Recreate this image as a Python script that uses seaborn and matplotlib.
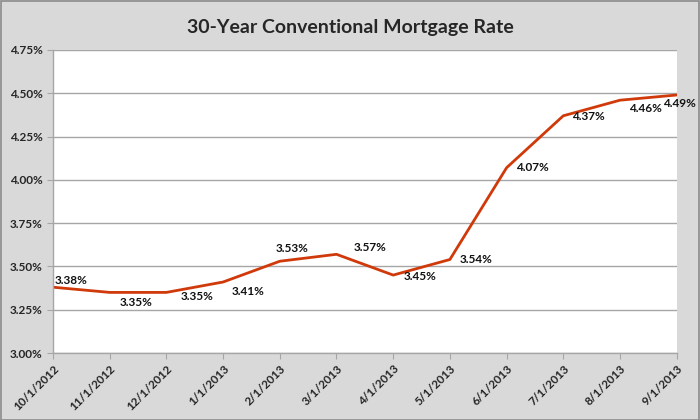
import seaborn as sns
import pandas as pd
from matplotlib import pyplot as plt
from matplotlib.ticker import FuncFormatter

dates = ["10/1/2012", "11/1/2012", "12/1/2012", "1/1/2013", "2/1/2013", "3/1/2013",
         "4/1/2013", "5/1/2013", "6/1/2013", "7/1/2013", "8/1/2013", "9/1/2013"]
rates = [3.38, 3.35, 3.35, 3.41, 3.53, 3.57, 3.45, 3.54, 4.07, 4.37, 4.46, 4.49]
yticks = [3.00, 3.25, 3.50, 3.75, 4.00, 4.25, 4.50, 4.75]

# label offsets in pixels (dx, dy)
label_offsets = [(2, 7), (10, -10), (14, -4), (9, -9), (-4, 13), (17, 7),
                 (10, -1), (10, 0), (9, 0), (9, -1), (9, -8), (-14, -8)]

df = pd.DataFrame({"date": dates, "rate": rates})

sns.set_style("white")
plt.rcParams["font.family"] = ["Lato", "DejaVu Sans"]

fig = plt.figure(figsize=(7, 4.2), dpi=100, facecolor="#d9d9d9")
ax = fig.add_axes([0.0757, 0.1595, 0.891, 0.7215])
ax.set_facecolor("white")

sns.lineplot(data=df, x="date", y="rate", sort=False, color="#d03a0a", linewidth=2.0, ax=ax)

for i, (r, (dx, dy)) in enumerate(zip(rates, label_offsets)):
    ax.annotate(f"{r:.2f}%", (i, r), xytext=(dx, dy), textcoords="offset pixels",
                ha="left", va="center", fontsize=8.5, fontweight="bold", color="#111111")

ax.set_ylim(3.0, 4.75)
ax.set_xlim(0, len(dates) - 1)
ax.set_yticks(yticks)
ax.yaxis.set_major_formatter(FuncFormatter(lambda v, p: f"{v:.2f}%"))
ax.grid(axis="y", color="#a6a6a6", linewidth=1.0)
ax.set_axisbelow(True)

for s in ["top", "right"]:
    ax.spines[s].set_visible(False)
for s in ["left", "bottom"]:
    ax.spines[s].set_color("#a6a6a6")
    ax.spines[s].set_linewidth(1.0)

ax.tick_params(axis="both", which="both", direction="out", length=4, color="#a6a6a6",
               labelsize=8.5)
ax.tick_params(axis="x", bottom=True)
ax.tick_params(axis="y", left=True)
ax.set_xticks(range(len(dates)))
ax.set_xticklabels(dates, rotation=45, ha="right", rotation_mode="anchor", fontweight="bold")
for lbl in ax.get_yticklabels():
    lbl.set_fontweight("bold")
ax.set_xlabel("")
ax.set_ylabel("")

fig.suptitle("30-Year Conventional Mortgage Rate", y=0.955, fontsize=14, fontweight="bold")

# thin darker border round the whole chart
fig.patches.append(plt.Rectangle((0.001, 0.001), 0.998, 0.997, transform=fig.transFigure,
                                 fill=False, edgecolor="#8c8c8c", linewidth=1.2))

fig.savefig("out.png", dpi=100, facecolor=fig.get_facecolor())
